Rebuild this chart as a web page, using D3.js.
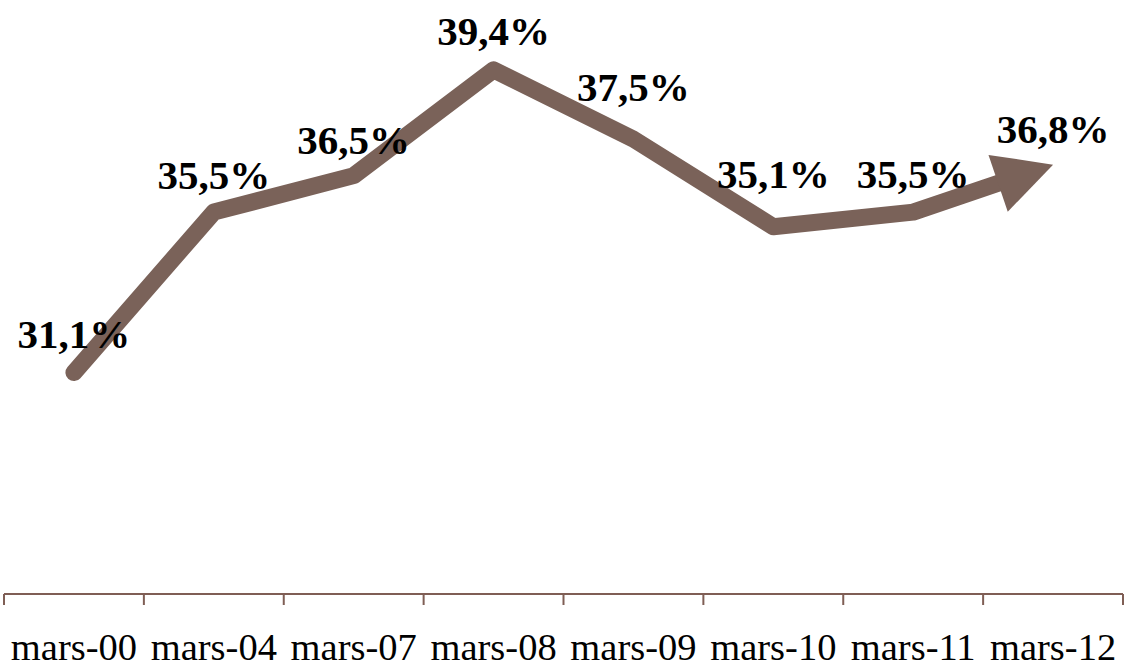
<!DOCTYPE html>
<html><head><meta charset="utf-8">
<script src="https://cdn.jsdelivr.net/npm/d3@7"></script>
<style>html,body{margin:0;padding:0;background:#fff;}</style>
</head><body>
<svg id="chart" width="1124" height="669"></svg>
<script>
const categories = ["mars-00","mars-04","mars-07","mars-08","mars-09","mars-10","mars-11","mars-12"];
const values = [31.1, 35.5, 36.5, 39.4, 37.5, 35.1, 35.5, 36.8];
const labels = ["31,1%","35,5%","36,5%","39,4%","37,5%","35,1%","35,5%","36,8%"];
const labelLift = [25, 23, 22, 25, 38, 39, 24, 22];

const svg = d3.select("#chart");
const lineColor = "#7a6259";
const axisColor = "#7f5e55";

const x = d3.scaleBand().domain(categories).range([4, 1123]);
const y = d3.scaleLinear().domain([25, 40]).range([595, 48]);
const cx = d => x(d) + x.bandwidth() / 2;

// axis
const axisY = 594;
const ax = svg.append("g").attr("transform", `translate(0,${axisY})`);
ax.append("line").attr("x1", x.range()[0]).attr("x2", x.range()[1])
  .attr("stroke", axisColor).attr("stroke-width", 2);
const tickXs = categories.map(c => x(c)).concat([x.range()[1]]);
ax.selectAll("line.tick").data(tickXs).join("line").attr("class", "tick")
  .attr("x1", d => d).attr("x2", d => d).attr("y1", 0).attr("y2", 11)
  .attr("stroke", axisColor).attr("stroke-width", 2);
svg.append("g").selectAll("text").data(categories).join("text")
  .attr("x", d => cx(d)).attr("y", 660)
  .attr("text-anchor", "middle")
  .attr("font-family", "'Liberation Serif','Times New Roman',serif")
  .attr("font-size", 38.5).attr("fill", "#000")
  .text(d => d);

// line with arrow
const pts = categories.map((c, i) => [cx(c), y(values[i])]);
const n = pts.length;
const tip = pts[n - 1], prev = pts[n - 2];
const dx = tip[0] - prev[0], dy = tip[1] - prev[1];
const len = Math.hypot(dx, dy);
const ux = dx / len, uy = dy / len;
const headLen = 58, headW = 60;
const base = [tip[0] - ux * headLen, tip[1] - uy * headLen];
const linePts = pts.slice(0, n - 1).concat([[base[0] + ux * 4, base[1] + uy * 4]]);

svg.append("path")
  .attr("d", d3.line()(linePts))
  .attr("fill", "none").attr("stroke", lineColor)
  .attr("stroke-width", 17).attr("stroke-linecap", "round").attr("stroke-linejoin", "round");

const px = -uy, py = ux;
svg.append("path")
  .attr("d", d3.line()([tip,
    [base[0] + px * headW / 2, base[1] + py * headW / 2],
    [base[0] - px * headW / 2, base[1] - py * headW / 2]]) + "Z")
  .attr("fill", lineColor);

// labels
svg.append("g").selectAll("text").data(pts).join("text")
  .attr("x", d => d[0]).attr("y", (d, i) => d[1] - labelLift[i])
  .attr("text-anchor", "middle")
  .attr("font-family", "'Liberation Serif','Times New Roman',serif")
  .attr("font-weight", "bold").attr("font-size", 41).attr("fill", "#000")
  .text((d, i) => labels[i]);
</script>
</body></html>
